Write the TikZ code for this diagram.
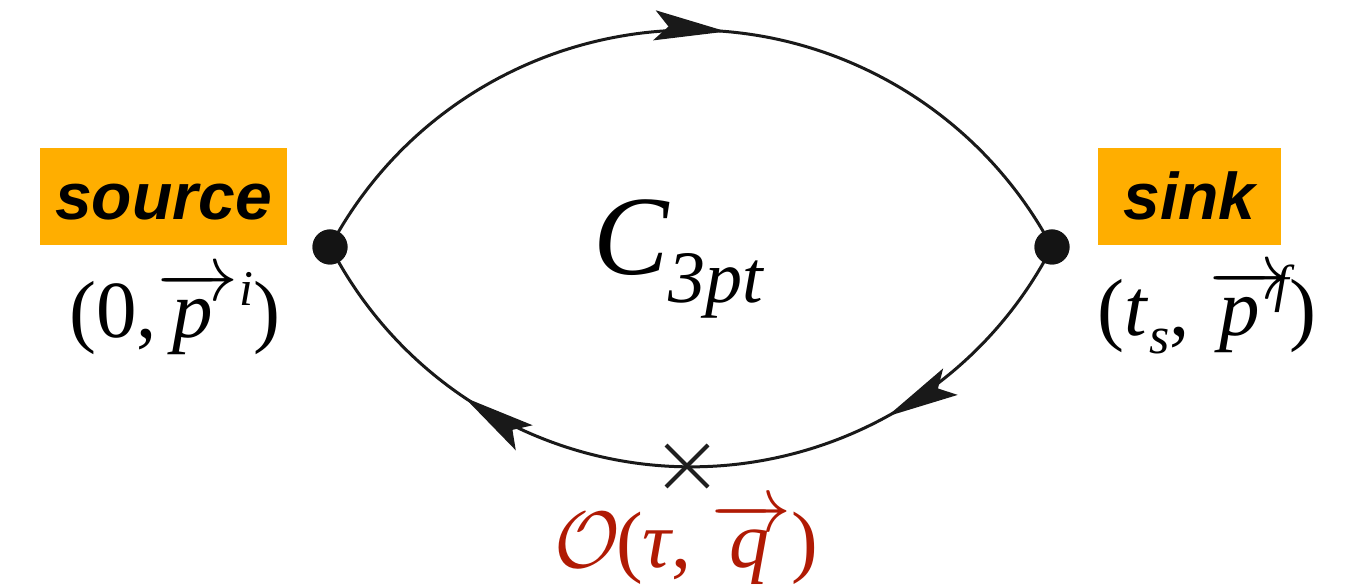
\RequirePackage{fix-cm}
\documentclass[tikz,border=0pt]{standalone}
\usepackage{fontspec}
\setmainfont{Liberation Serif}
\newfontfamily\labelsans{Liberation Sans}
\usetikzlibrary{arrows.meta,decorations.markings,shapes.misc}
\definecolor{boxorange}{HTML}{FFAE00}
\definecolor{oprred}{HTML}{B01A04}
\newcommand\fs[1]{\fontsize{#1}{#1}\selectfont}
\newcommand\vecarrow[3]{$\overrightarrow{\kern#1\mbox{\itshape #2\rule{0pt}{0.47em}}\kern#3}$}
\begin{document}
\begin{tikzpicture}[x=1pt,y=1pt,
  dot/.style={circle, fill=black!92, inner sep=0pt, minimum size=35pt},
  tagbox/.style={fill=boxorange, inner sep=0pt, minimum height=97pt,
    text height=46pt, text depth=0pt, font=\labelsans\bfseries\itshape\fs{66}},
  quark/.style={line width=3pt, black!90, postaction=decorate}]
\useasboundingbox (0,0) rectangle (1368,585);
\node[dot] (L) at (330,338) {};
\node[dot] (R) at (1052,338) {};
% propagators
\draw[quark, decoration={markings, mark=at position 0.54 with
  {\arrow{Stealth[length=72pt,width=30pt,inset=14pt]}}}]
  (L.center) arc[start angle=152, end angle=28, radius=408.8pt];
\draw[quark, decoration={markings,
  mark=at position 0.27 with {\arrow{Stealth[length=72pt,width=30pt,inset=14pt]}},
  mark=at position 0.771 with {\arrow{Stealth[length=72pt,width=30pt,inset=14pt]}}}]
  (R.center) arc[start angle=332.7, end angle=207.3, radius=406pt];
\node[dot] at (L) {};
\node[dot] at (R) {};
% operator insertion
\node[cross out, draw=black!88, line width=4pt, minimum size=38pt, inner sep=0pt] (X) at (687,119) {};
% tags
\node[tagbox, minimum width=247pt] (srcbox) at (163.5,388) {source};
\node[tagbox, minimum width=183pt] (snkbox) at (1189.5,388) {sink};
% labels
\node[anchor=base, inner sep=0pt] (srclab) at (175,247)
  {\fs{81}(0,\vecarrow{0pt}{p}{0.12em}\kern0.02em\raisebox{0.4em}{\fs{50}\itshape i})};
\node[anchor=base, inner sep=0pt] (snklab) at (1207,249)
  {\fs{81}(\textit{t}\raisebox{-0.22em}{\fs{52}\itshape s}, \vecarrow{0.1em}{p}{0.36em}\kern-0.2em\raisebox{0.42em}{\fs{52}\itshape f})};
\node[anchor=base, inner sep=0pt] (corr) at (678,310)
  {\fs{113}\itshape C\raisebox{-0.24em}{\fs{74}3pt}};
\node[anchor=base, inner sep=0pt, text=oprred] (oplab) at (686,17)
  {\fs{80}$\mathcal{O}$\kern-0.05em(\textit{τ}, \vecarrow{0.15em}{q}{0.2em})};
\end{tikzpicture}
\end{document}
